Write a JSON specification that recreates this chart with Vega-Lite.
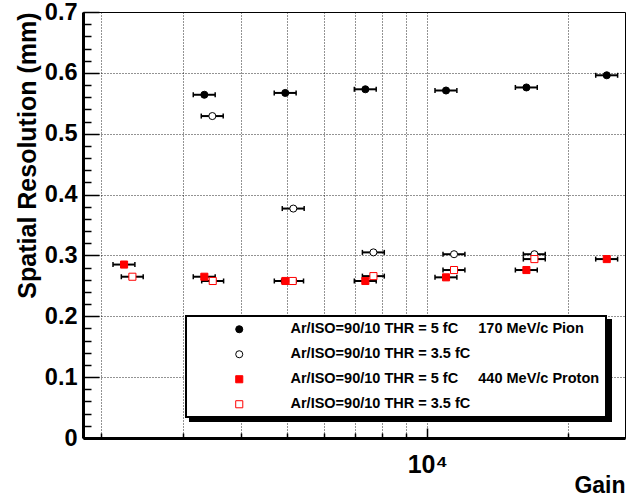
{
  "$schema": "https://vega.github.io/schema/vega-lite/v6.json",
  "width": 542,
  "height": 426,
  "autosize": {"type": "none"},
  "padding": {"left": 83, "top": 12, "right": 1, "bottom": 58},
  "background": "white",
  "config": {
    "font": "Liberation Sans",
    "view": {"stroke": "black", "strokeWidth": 1},
    "legend": {
      "orient": "none",
      "strokeWidth": 2,
      "padding": 6,
      "symbolOffset": 40,
      "labelOffset": 44,
      "symbolSize": 50,
      "symbolStrokeWidth": 1,
      "labelFont": "Liberation Sans",
      "labelFontSize": 14.5,
      "labelFontWeight": "bold",
      "labelColor": "black",
      "labelLimit": 600,
      "rowPadding": 10
    }
  },
  "data": {
    "values": [
      {"series": "a", "gain": 3331, "lo": 3154, "hi": 3514, "res": 0.564},
      {"series": "a", "gain": 4965, "lo": 4702, "hi": 5238, "res": 0.567},
      {"series": "a", "gain": 7370, "lo": 6979, "hi": 7775, "res": 0.573},
      {"series": "a", "gain": 10971, "lo": 10390, "hi": 11574, "res": 0.571},
      {"series": "a", "gain": 16308, "lo": 15444, "hi": 17205, "res": 0.576},
      {"series": "a", "gain": 24238, "lo": 22953, "hi": 25571, "res": 0.596},
      {"series": "b", "gain": 3465, "lo": 3281, "hi": 3656, "res": 0.529},
      {"series": "b", "gain": 5166, "lo": 4892, "hi": 5450, "res": 0.377},
      {"series": "b", "gain": 7669, "lo": 7263, "hi": 8091, "res": 0.305},
      {"series": "b", "gain": 11413, "lo": 10808, "hi": 12041, "res": 0.302},
      {"series": "b", "gain": 16963, "lo": 16064, "hi": 17896, "res": 0.302},
      {"series": "c", "gain": 2242, "lo": 2123, "hi": 2365, "res": 0.285},
      {"series": "c", "gain": 3331, "lo": 3154, "hi": 3514, "res": 0.265},
      {"series": "c", "gain": 4967, "lo": 4704, "hi": 5240, "res": 0.258},
      {"series": "c", "gain": 7370, "lo": 6979, "hi": 7775, "res": 0.258},
      {"series": "c", "gain": 10971, "lo": 10390, "hi": 11574, "res": 0.264},
      {"series": "c", "gain": 16308, "lo": 15444, "hi": 17205, "res": 0.276},
      {"series": "c", "gain": 24238, "lo": 22953, "hi": 25571, "res": 0.294},
      {"series": "d", "gain": 2336, "lo": 2212, "hi": 2464, "res": 0.265},
      {"series": "d", "gain": 3472, "lo": 3288, "hi": 3663, "res": 0.258},
      {"series": "d", "gain": 5150, "lo": 4877, "hi": 5433, "res": 0.258},
      {"series": "d", "gain": 7669, "lo": 7263, "hi": 8091, "res": 0.266},
      {"series": "d", "gain": 11413, "lo": 10808, "hi": 12041, "res": 0.276},
      {"series": "d", "gain": 16963, "lo": 16064, "hi": 17896, "res": 0.294}
    ]
  },
  "layer": [
    {
      "mark": {"type": "rule", "strokeWidth": 2},
      "encoding": {
        "x": {
          "field": "lo",
          "type": "quantitative",
          "scale": {"type": "log", "domain": [1831, 26520], "nice": false},
          "axis": {
            "title": "Gain",
            "titleFont": "Liberation Sans",
            "titleFontWeight": "bold",
            "titleFontSize": 23,
            "titleColor": "black",
            "titleAlign": "right",
            "titleBaseline": "alphabetic",
            "titleX": 542,
            "titleY": 54,
            "values": [2000, 3000, 4000, 5000, 6000, 7000, 8000, 9000, 10000, 20000],
            "tickCount": 100,
            "labelExpr": "datum.value == 10000 ? '10⁴' : ''",
            "labelFont": "Liberation Sans",
            "labelFontSize": 25,
            "labelFontWeight": "bold",
            "labelColor": "black",
            "labelBaseline": "alphabetic",
            "labelPadding": 44,
            "labelOverlap": false,
            "labelFlush": false,
            "tickSize": {"condition": {"test": "datum.value == 10000", "value": -10}, "value": -5},
            "tickColor": "black",
            "tickWidth": 1.5,
            "domainColor": "black",
            "domainWidth": 3,
            "grid": true,
            "gridColor": "black",
            "gridDash": [1, 2],
            "gridWidth": 1,
            "gridOpacity": 0.85
          }
        },
        "x2": {"field": "hi"},
        "y": {
          "field": "res",
          "type": "quantitative",
          "scale": {"domain": [0, 0.7], "nice": false},
          "axis": {
            "title": "Spatial Resolution (mm)",
            "titleFont": "Liberation Sans",
            "titleFontWeight": "bold",
            "titleFontSize": 25,
            "titleColor": "black",
            "titleAngle": 270,
            "titleAlign": "right",
            "titleBaseline": "alphabetic",
            "titleX": -48,
            "titleY": 0,
            "values": [0, 0.02, 0.04, 0.06, 0.08, 0.1, 0.12, 0.14, 0.16, 0.18, 0.2, 0.22, 0.24, 0.26, 0.28, 0.3, 0.32, 0.34, 0.36, 0.38, 0.4, 0.42, 0.44, 0.46, 0.48, 0.5, 0.52, 0.54, 0.56, 0.58, 0.6, 0.62, 0.64, 0.66, 0.68, 0.7],
            "tickCount": 100,
            "labelExpr": "round(datum.value * 100) % 10 == 0 ? format(datum.value, '.1~f') : ''",
            "labelFont": "Liberation Sans",
            "labelFontSize": 23.5,
            "labelFontWeight": "bold",
            "labelColor": "black",
            "labelPadding": 22,
            "labelOverlap": false,
            "labelFlush": false,
            "tickSize": {"condition": {"test": "round(datum.value * 100) % 10 == 0", "value": -16}, "value": -8},
            "tickColor": "black",
            "tickWidth": 1.5,
            "domainColor": "black",
            "domainWidth": 3,
            "grid": true,
            "gridColor": "black",
            "gridDash": [1, 2],
            "gridWidth": 1,
            "gridOpacity": {"condition": {"test": "round(datum.value * 100) % 10 == 0", "value": 0.85}, "value": 0}
          }
        },
        "color": {
          "field": "series",
          "type": "nominal",
          "scale": {"domain": ["d", "c", "b", "a"], "range": ["black", "black", "black", "black"]},
          "legend": {
            "title": null,
            "legendX": 107,
            "legendY": 308,
            "fillColor": "black",
            "strokeColor": "black",
            "labelColor": "black",
            "symbolOffset": 350,
            "labelExpr": "datum.label == 'c' ? '\u00a0\u00a0\u00a0\u00a0\u00a0\u00a0\u00a0\u00a0\u00a0\u00a0\u00a0\u00a0\u00a0\u00a0\u00a0\u00a0\u00a0\u00a0\u00a0\u00a0\u00a0\u00a0\u00a0\u00a0\u00a0\u00a0\u00a0\u00a0\u00a0\u00a0\u00a0\u00a0\u00a0\u00a0\u00a0\u00a0\u00a0\u00a0\u00a0\u00a0\u00a0\u00a0\u00a0\u00a0\u00a0\u00a0\u00a0\u00a0\u00a0\u00a0\u00a0\u00a0\u00a0\u00a0\u00a0\u00a0\u00a0\u00a0\u00a0\u00a0\u00a0\u00a0\u00a0\u00a0\u00a0\u00a0\u00a0\u00a0\u00a0\u00a0\u00a0\u00a0\u00a0\u00a0\u00a0\u00a0\u00a0\u00a0' : '\u00a0'"
          }
        }
      }
    },
    {
      "mark": {"type": "tick", "orient": "vertical", "color": "black", "size": 5, "thickness": 1.5, "opacity": 1},
      "encoding": {
        "x": {"field": "lo", "type": "quantitative"},
        "y": {"field": "res", "type": "quantitative"}
      }
    },
    {
      "mark": {"type": "tick", "orient": "vertical", "color": "black", "size": 5, "thickness": 1.5, "opacity": 1},
      "encoding": {
        "x": {"field": "hi", "type": "quantitative"},
        "y": {"field": "res", "type": "quantitative"}
      }
    },
    {
      "mark": {"type": "point", "filled": true, "size": 50, "strokeWidth": 1, "opacity": 1},
      "encoding": {
        "x": {"field": "gain", "type": "quantitative"},
        "y": {"field": "res", "type": "quantitative"},
        "shape": {
          "field": "series",
          "type": "nominal",
          "scale": {"domain": ["a", "b", "c", "d"], "range": ["circle", "circle", "square", "square"]},
          "legend": {"title": null, "legendX": 103, "legendY": 304, "fillColor": "white", "strokeColor": "black", "labelExpr": "datum.label == 'a' ? 'Ar/ISO=90/10 THR = 5 fC\u00a0\u00a0\u00a0\u00a0\u00a0170 MeV/c Pion' : datum.label == 'b' ? 'Ar/ISO=90/10 THR = 3.5 fC' : datum.label == 'c' ? 'Ar/ISO=90/10 THR = 5 fC\u00a0\u00a0\u00a0\u00a0\u00a0440 MeV/c Proton\u00a0' : 'Ar/ISO=90/10 THR = 3.5 fC'"}
        },
        "fill": {
          "field": "series",
          "type": "nominal",
          "scale": {"domain": ["a", "b", "c", "d"], "range": ["black", "white", "red", "white"]},
          "legend": {"title": null, "legendX": 103, "legendY": 304, "fillColor": "white", "strokeColor": "black", "labelExpr": "datum.label == 'a' ? 'Ar/ISO=90/10 THR = 5 fC\u00a0\u00a0\u00a0\u00a0\u00a0170 MeV/c Pion' : datum.label == 'b' ? 'Ar/ISO=90/10 THR = 3.5 fC' : datum.label == 'c' ? 'Ar/ISO=90/10 THR = 5 fC\u00a0\u00a0\u00a0\u00a0\u00a0440 MeV/c Proton\u00a0' : 'Ar/ISO=90/10 THR = 3.5 fC'"}
        },
        "stroke": {
          "field": "series",
          "type": "nominal",
          "scale": {"domain": ["a", "b", "c", "d"], "range": ["black", "black", "red", "red"]},
          "legend": {"title": null, "legendX": 103, "legendY": 304, "fillColor": "white", "strokeColor": "black", "labelExpr": "datum.label == 'a' ? 'Ar/ISO=90/10 THR = 5 fC\u00a0\u00a0\u00a0\u00a0\u00a0170 MeV/c Pion' : datum.label == 'b' ? 'Ar/ISO=90/10 THR = 3.5 fC' : datum.label == 'c' ? 'Ar/ISO=90/10 THR = 5 fC\u00a0\u00a0\u00a0\u00a0\u00a0440 MeV/c Proton\u00a0' : 'Ar/ISO=90/10 THR = 3.5 fC'"}
        }
      }
    }
  ]
}
